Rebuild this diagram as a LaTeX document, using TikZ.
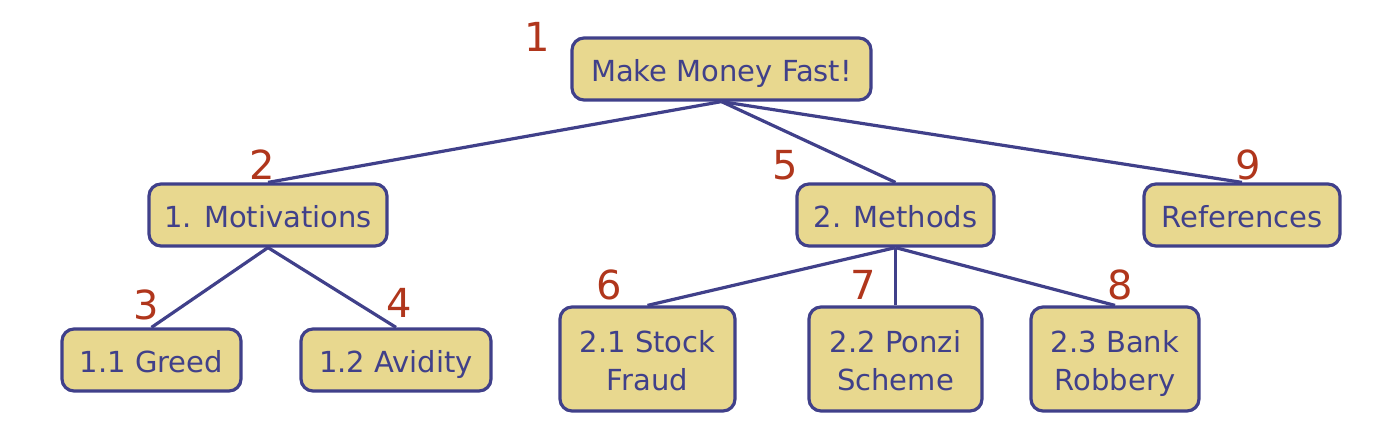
\documentclass[tikz,border=0pt]{standalone}
\usepackage{fontspec}
\setmainfont{DejaVu Sans}
\usetikzlibrary{positioning}
\definecolor{boxfill}{HTML}{E8D88F}
\definecolor{boxline}{HTML}{40408A}
\definecolor{numred}{HTML}{B0361C}

\begin{document}
\begin{tikzpicture}[x=1pt,y=-1pt]
		\tikzstyle{topic}=[draw=boxline, fill=boxfill, line width=3.2pt, rounded corners=12pt, text=boxline, align=center, font=\fontsize{29}{38}\selectfont, inner sep=0pt, minimum height=62pt, text height=27pt, text depth=1.6pt];
		\tikzstyle{tall}=[minimum height=104pt, text height=62pt, text depth=0pt];
		\tikzstyle{order}=[text=numred, font=\fontsize{40}{40}\selectfont, inner sep=0pt];
		\tikzstyle{link}=[draw=boxline, line width=3.2pt];

		\useasboundingbox (0,0) rectangle (1390,426);

		\node[topic, minimum width=299pt] (root) at (721.5,69) {Make Money Fast!};

		\node[topic, minimum width=238pt] (motiv) at (268,215) {1. Motivations};
		\node[topic, minimum width=197pt] (meth) at (895.5,215) {2. Methods};
		\node[topic, minimum width=196pt] (refs) at (1242,215) {References};

		\node[topic, minimum width=179pt] (greed) at (151.5,360) {1.1 Greed};
		\node[topic, minimum width=190pt] (avid) at (396,360) {1.2 Avidity};

		\node[topic, tall, minimum width=175pt] (stock) at (647.5,359) {2.1 Stock\\Fraud};
		\node[topic, tall, minimum width=173pt] (ponzi) at (895.5,359) {2.2 Ponzi\\Scheme};
		\node[topic, tall, minimum width=168pt] (bank) at (1115,359) {2.3 Bank\\Robbery};

		% edges of the tree
		\path[link] (root.south) -- (motiv.north);
		\path[link] (root.south) -- (meth.north);
		\path[link] (root.south) -- (refs.north);
		\path[link] (motiv.south) -- (greed.north);
		\path[link] (motiv.south) -- (avid.north);
		\path[link] (meth.south) -- (stock.north);
		\path[link] (meth.south) -- (ponzi.north);
		\path[link] (meth.south) -- (bank.north);

		% visiting order
		\node[order] (n1) at (537,37) {1};
		\node[order] (n2) at (262,165) {2};
		\node[order] (n3) at (146,305) {3};
		\node[order] (n4) at (399,303) {4};
		\node[order] (n5) at (785,165) {5};
		\node[order] (n6) at (609,285) {6};
		\node[order] (n7) at (863,285) {7};
		\node[order] (n8) at (1120,285) {8};
		\node[order] (n9) at (1248,165) {9};
	\end{tikzpicture}
\end{document}
